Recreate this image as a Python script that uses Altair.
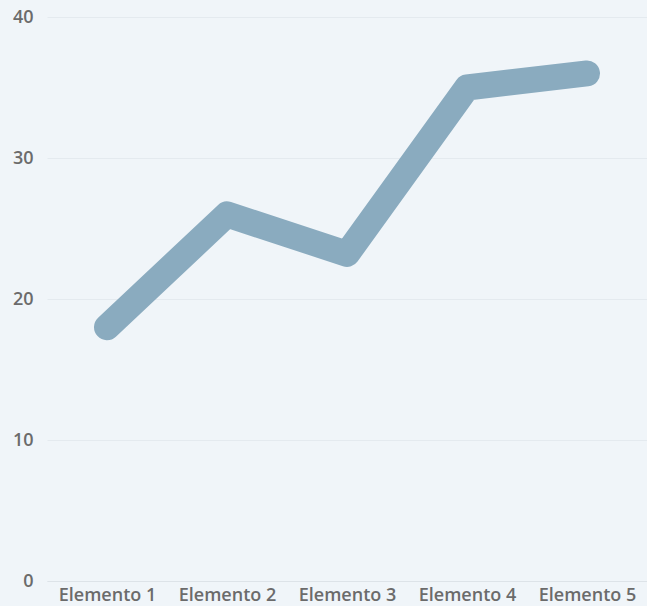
import altair as alt
import pandas as pd

categories = ["Elemento 1", "Elemento 2", "Elemento 3", "Elemento 4", "Elemento 5"]
values = [18, 26, 23.2, 35, 36]

df = pd.DataFrame({"cat": categories, "val": values})

FONT = "Open Sans"

chart = alt.Chart(df).mark_line(
    color="#8aabbf", strokeWidth=26, strokeCap="round", strokeJoin="round"
).encode(
    x=alt.X("cat:N", sort=categories, scale=alt.Scale(type="point", padding=0.5),
            axis=alt.Axis(title=None, labelAngle=0, ticks=False, domain=True,
                          domainColor="#dde3e8", labelFontSize=18, labelColor="#6b6b6b",
                          labelFont=FONT, labelFontWeight=600, labelPadding=5, grid=False)),
    y=alt.Y("val:Q", scale=alt.Scale(domain=[0, 40], nice=False),
            axis=alt.Axis(title=None, values=[0, 10, 20, 30, 40], ticks=False, domain=False,
                          gridColor="#e4eaef", labelFontSize=18, labelColor="#6b6b6b",
                          labelFont=FONT, labelFontWeight=600, labelPadding=14)),
).properties(
    width=600, height=564, background="#f0f5f9",
    padding={"left": 47, "top": 17, "right": 0, "bottom": 25},
    autosize=alt.AutoSizeParams(type="none"),
).configure_view(stroke=None)

chart.save("out.html", embed_options={"renderer": "svg", "actions": False})
